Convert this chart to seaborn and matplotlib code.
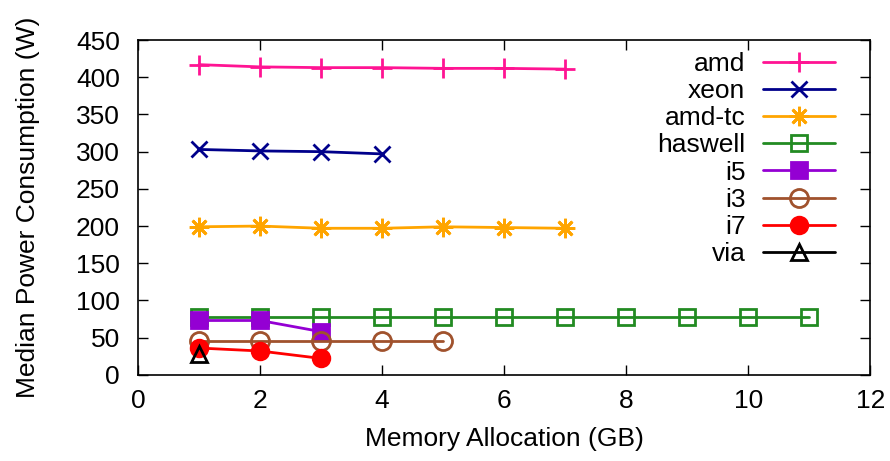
import matplotlib
matplotlib.use("Agg")
import matplotlib.pyplot as plt
import seaborn as sns
import pandas as pd

sns.set_theme(style="ticks")
plt.rcParams['font.family'] = ['Liberation Sans', 'DejaVu Sans']
plt.rcParams['text.color'] = 'black'
plt.rcParams['axes.labelcolor'] = 'black'

names = ["amd", "xeon", "amd-tc", "haswell", "i5", "i3", "i7", "via"]
x_amd = [1, 2, 3, 4, 5, 6, 7]
y_amd = [417, 414, 413, 413, 412, 412, 411]
x_xeon = [1, 2, 3, 4]
y_xeon = [303, 301, 300, 297]
x_amdtc = [1, 2, 3, 4, 5, 6, 7]
y_amdtc = [199, 200, 197, 197, 199, 198, 197]
x_haswell = [1, 2, 3, 4, 5, 6, 7, 8, 9, 10, 11]
y_haswell = [78, 78, 78, 78, 78, 78, 78, 78, 78, 78, 78]
x_i5 = [1, 2, 3]
y_i5 = [73, 73, 58]
x_i3 = [1, 2, 3, 4, 5]
y_i3 = [45, 45, 45, 45, 45]
x_i7 = [1, 2, 3]
y_i7 = [36, 32, 22]
x_via = [1]
y_via = [28]

xs = [x_amd, x_xeon, x_amdtc, x_haswell, x_i5, x_i3, x_i7, x_via]
ys = [y_amd, y_xeon, y_amdtc, y_haswell, y_i5, y_i3, y_i7, y_via]

colors = ["#ff1493", "#00008b", "#ffa500", "#228b22", "#9400d3", "#a0522d", "#ff0000", "#000000"]
markers = ["+", "x", (8, 2, 0), "s", "s", "o", "o", "^"]
filled = [True, True, True, False, True, False, True, False]
msizes = [14, 12, 14, 12, 12, 13, 12, 11]

fig, ax = plt.subplots(figsize=(8.9, 4.61), dpi=100)
fig.subplots_adjust(left=0.155, right=0.978, top=0.913, bottom=0.187)

for n, x, y, c, m, f, ms in zip(names, xs, ys, colors, markers, filled, msizes):
    df = pd.DataFrame({"x": x, "y": y})
    kw = dict(marker=m, markersize=ms, color=c, linewidth=2, label=n, markeredgewidth=2)
    kw["markerfacecolor"] = c if f else "none"
    kw["markeredgecolor"] = c
    sns.lineplot(data=df, x="x", y="y", ax=ax, **kw)

ax.set_xlim(0, 12)
ax.set_ylim(0, 450)
ax.set_xticks(range(0, 13, 2))
ax.set_yticks(range(0, 451, 50))
ax.tick_params(direction="in", length=7, width=1, top=True, right=True, labelsize=19, colors="black")
ax.tick_params(axis="x", pad=10)
ax.tick_params(axis="y", pad=13)
for s in ax.spines.values():
    s.set_linewidth(1.2)
    s.set_color("black")
ax.set_xlabel("Memory Allocation (GB)", fontsize=19, labelpad=10)
ax.set_ylabel("Median Power Consumption (W)", fontsize=19, labelpad=26)

leg = ax.legend(loc="upper right", bbox_to_anchor=(0.968, 1.0), frameon=False, markerfirst=False,
                fontsize=19, handlelength=2.75, labelspacing=0.12, handletextpad=0.65,
                borderaxespad=0.05)
for col in leg._legend_handle_box._children:
    col.align = "right"

fig.savefig("out.png", dpi=100)
